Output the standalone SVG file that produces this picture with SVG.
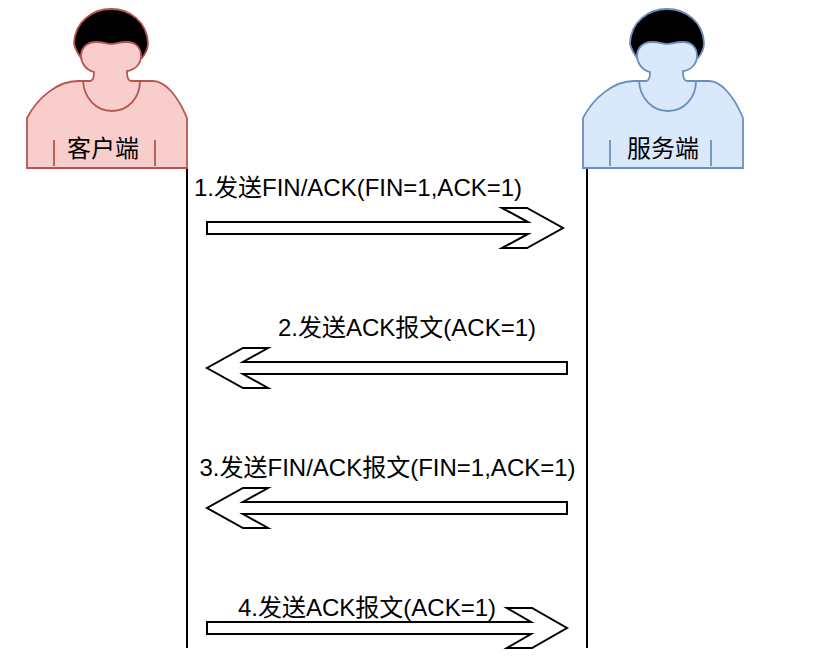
<svg xmlns="http://www.w3.org/2000/svg" width="826" height="664" viewBox="0 0 826 664">
<style>
text{font-family:"Liberation Sans","Noto Sans CJK SC",sans-serif;font-size:24px;fill:#000}
.life{stroke:#000;stroke-width:2;fill:none}
.arrow{fill:#fff;stroke:#000;stroke-width:2;stroke-linejoin:miter;stroke-miterlimit:10}
.client{fill:#f8cecc;stroke:#b85450}
.server{fill:#dae8fc;stroke:#6c8ebf}
.p{stroke-width:1.8}
.hair{fill:#000}
.detail{fill:none}
</style>
<defs>
<g id="person" class="p">
<path class="hair" d="M81 58C75 50 74 44 74 43C75 22 92 9 111 9C130 9 147 22 148 43C148 46 147 52 142 58Z"/>
<path d="M27 168V118C38 97 58 81 78 81H90C93 81 94 76 94 72C86 70 81 63 81 56C81 48 87 42 96 42C103 42 108 44 111 44C114 44 120 42 127 42C136 42 141 48 141 56C141 63 136 70 127 71C127 76 128 81 131 81H153C165 81 178 96 187 118V168Z"/>
<path class="detail" d="M83 81C84 98 96 111 112 111C128 111 140 98 140 81"/>
<path class="detail" d="M54 140V166M155 140V166"/>
</g>
</defs>
<g id="connectors">
<path class="life" d="M187 168V648"/>
<path class="life" d="M587 168V648"/>
<path class="arrow" d="M207 222H528L502 208H527L563 228L527 248H502L528 234H207Z"/>
<path class="arrow" d="M567 362H243L268 348H243L207 368L243 388H268L243 374H567Z"/>
<path class="arrow" d="M567 502H243L268 488H243L207 508L243 528H268L243 514H567Z"/>
<path class="arrow" d="M207 622H531L507 608H532L567 628L532 648H507L531 634H207Z"/>
</g>
<g id="client">
<use href="#person" class="client"/>
<text x="103" y="157" text-anchor="middle">客户端</text>
</g>
<g id="server">
<use href="#person" x="556" class="server"/>
<text x="663" y="157" text-anchor="middle">服务端</text>
</g>
<g id="labels">
<text x="194" y="196">1.发送FIN/ACK(FIN=1,ACK=1)</text>
<text x="278" y="336">2.发送ACK报文(ACK=1)</text>
<text x="199.5" y="476">3.发送FIN/ACK报文(FIN=1,ACK=1)</text>
<text x="238" y="616">4.发送ACK报文(ACK=1)</text>
</g>
</svg>
